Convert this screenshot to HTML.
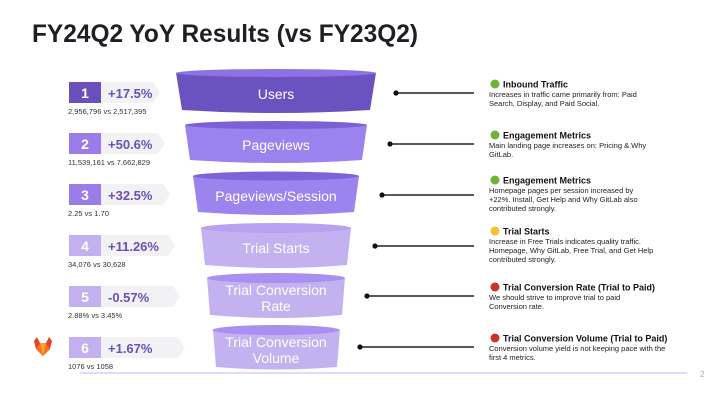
<!DOCTYPE html>
<html><head><meta charset="utf-8"><style>
html,body{margin:0;padding:0;background:#fff}
svg{display:block}
text{font-family:"Liberation Sans",sans-serif}
</style></head><body>
<svg width="720" height="405" viewBox="0 0 720 405" xmlns="http://www.w3.org/2000/svg">
<text x="32" y="42" font-size="25" font-weight="bold" fill="#1f1e24" textLength="386" lengthAdjust="spacingAndGlyphs">FY24Q2 YoY Results (vs FY23Q2)</text>

<!-- left tags -->
<g font-weight="bold">
<g transform="translate(0,82)">
<polygon points="101,0 153,0 160,10.5 153,21 101,21" fill="#f2f1f4"/>
<rect x="69" y="0" width="32" height="21" fill="#6b4fbb"/>
<text x="85" y="16" font-size="14" fill="#fff" text-anchor="middle">1</text>
<text x="108" y="16" font-size="13" fill="#6b4fbb">+17.5%</text>
<text x="68" y="32" font-size="7.5" fill="#333" font-weight="normal">2,956,796 vs 2,517,395</text>
</g>
<g transform="translate(0,133)">
<polygon points="101,0 158,0 165,10.5 158,21 101,21" fill="#f2f1f4"/>
<rect x="69" y="0" width="32" height="21" fill="#9b7de9"/>
<text x="85" y="16" font-size="14" fill="#fff" text-anchor="middle">2</text>
<text x="108" y="16" font-size="13" fill="#6b4fbb">+50.6%</text>
<text x="68" y="32" font-size="7.5" fill="#333" font-weight="normal">11,539,161 vs 7,662,829</text>
</g>
<g transform="translate(0,184)">
<polygon points="101,0 163,0 170,10.5 163,21 101,21" fill="#f2f1f4"/>
<rect x="69" y="0" width="32" height="21" fill="#9b7de9"/>
<text x="85" y="16" font-size="14" fill="#fff" text-anchor="middle">3</text>
<text x="108" y="16" font-size="13" fill="#6b4fbb">+32.5%</text>
<text x="68" y="32" font-size="7.5" fill="#333" font-weight="normal">2.25 vs 1.70</text>
</g>
<g transform="translate(0,235)">
<polygon points="101,0 168,0 175,10.5 168,21 101,21" fill="#f2f1f4"/>
<rect x="69" y="0" width="32" height="21" fill="#c3b0f0"/>
<text x="85" y="16" font-size="14" fill="#fff" text-anchor="middle">4</text>
<text x="108" y="16" font-size="13" fill="#6b4fbb">+11.26%</text>
<text x="68" y="32" font-size="7.5" fill="#333" font-weight="normal">34,076 vs 30,628</text>
</g>
<g transform="translate(0,286)">
<polygon points="101,0 173,0 180,10.5 173,21 101,21" fill="#f2f1f4"/>
<rect x="69" y="0" width="32" height="21" fill="#c3b0f0"/>
<text x="85" y="16" font-size="14" fill="#fff" text-anchor="middle">5</text>
<text x="108" y="16" font-size="13" fill="#6b4fbb">-0.57%</text>
<text x="68" y="32" font-size="7.5" fill="#333" font-weight="normal">2.88% vs 3.45%</text>
</g>
<g transform="translate(0,337)">
<polygon points="101,0 178,0 185,10.5 178,21 101,21" fill="#f2f1f4"/>
<rect x="69" y="0" width="32" height="21" fill="#c3b0f0"/>
<text x="85" y="16" font-size="14" fill="#fff" text-anchor="middle">6</text>
<text x="108" y="16" font-size="13" fill="#6b4fbb">+1.67%</text>
<text x="68" y="32" font-size="7.5" fill="#333" font-weight="normal">1076 vs 1058</text>
</g>
</g>

<!-- funnel -->
<g fill="#fff" font-size="14" text-anchor="middle">
<path d="M176,73 L182,110 Q276,116 370,110 L376,73 Z" fill="#6b52c0"/>
<ellipse cx="276" cy="73" rx="100" ry="4" fill="#8d72e3"/>
<text x="276" y="99">Users</text>

<path d="M185,125 L190,160 Q276,166 362,160 L367,125 Z" fill="#9b82ee"/>
<ellipse cx="276" cy="125" rx="91" ry="4" fill="#7b60d6"/>
<text x="276" y="150">Pageviews</text>

<path d="M193,176 L198,212 Q276,218 354,212 L359,176 Z" fill="#9d83ee"/>
<ellipse cx="276" cy="176" rx="83" ry="4.5" fill="#7e63d8"/>
<text x="276" y="201">Pageviews/Session</text>

<path d="M201,228 L205,265 Q276,271 347,265 L351,228 Z" fill="#c4b2f0"/>
<ellipse cx="276" cy="228" rx="75" ry="5" fill="#b8a2f0"/>
<text x="276" y="253">Trial Starts</text>

<path d="M207,278 L210,315 Q276,321 342,315 L345,278 Z" fill="#c4b2f0"/>
<ellipse cx="276" cy="278" rx="69" ry="5" fill="#a98ff0"/>
<text x="276" y="295">Trial Conversion</text>
<text x="276" y="311">Rate</text>

<path d="M213,330 L216,367 Q276,372 337,367 L340,330 Z" fill="#c4b2f0"/>
<ellipse cx="276" cy="330" rx="63.5" ry="5" fill="#a98ff0"/>
<text x="276" y="347">Trial Conversion</text>
<text x="276" y="363">Volume</text>
</g>

<!-- connectors -->
<g stroke="#222" stroke-width="1.5" fill="#111">
<line x1="396" y1="93" x2="474" y2="93"/><circle cx="396" cy="93" r="2.6" stroke="none"/>
<line x1="390" y1="144" x2="474" y2="144"/><circle cx="390" cy="144" r="2.6" stroke="none"/>
<line x1="382" y1="195" x2="474" y2="195"/><circle cx="382" cy="195" r="2.6" stroke="none"/>
<line x1="375" y1="246" x2="474" y2="246"/><circle cx="375" cy="246" r="2.6" stroke="none"/>
<line x1="367" y1="296" x2="474" y2="296"/><circle cx="367" cy="296" r="2.6" stroke="none"/>
<line x1="360" y1="347" x2="474" y2="347"/><circle cx="360" cy="347" r="2.6" stroke="none"/>
</g>

<!-- right text -->
<g font-size="7.5" fill="#222">
<circle cx="495" cy="84" r="4.5" fill="#6fb33b"/>
<text x="503" y="87.5" font-size="9" font-weight="bold" fill="#111">Inbound Traffic</text>
<text x="489" y="97">Increases in traffic came primarily from: Paid</text>
<text x="489" y="106">Search, Display, and Paid Social.</text>

<circle cx="495" cy="135" r="4.5" fill="#6fb33b"/>
<text x="503" y="138.5" font-size="9" font-weight="bold" fill="#111">Engagement Metrics</text>
<text x="489" y="148">Main landing page increases on: Pricing &amp; Why</text>
<text x="489" y="157">GitLab.</text>

<circle cx="495" cy="180" r="4.5" fill="#6fb33b"/>
<text x="503" y="183.5" font-size="9" font-weight="bold" fill="#111">Engagement Metrics</text>
<text x="489" y="193">Homepage pages per session increased by</text>
<text x="489" y="202">+22%. Install, Get Help and Why GitLab also</text>
<text x="489" y="211">contributed strongly.</text>

<circle cx="495" cy="231" r="4.5" fill="#f2c230"/>
<text x="503" y="234.5" font-size="9" font-weight="bold" fill="#111">Trial Starts</text>
<text x="489" y="244">Increase in Free Trials indicates quality traffic.</text>
<text x="489" y="253">Homepage, Why GitLab, Free Trial, and Get Help</text>
<text x="489" y="262">contributed strongly.</text>

<circle cx="495" cy="287" r="4.5" fill="#c8352b"/>
<text x="503" y="290.5" font-size="9" font-weight="bold" fill="#111">Trial Conversion Rate (Trial to Paid)</text>
<text x="489" y="300">We should strive to improve trial to paid</text>
<text x="489" y="309">Conversion rate.</text>

<circle cx="495" cy="338" r="4.5" fill="#c8352b"/>
<text x="503" y="341.5" font-size="9" font-weight="bold" fill="#111">Trial Conversion Volume (Trial to Paid)</text>
<text x="489" y="351">Conversion volume yield is not keeping pace with the</text>
<text x="489" y="360">first 4 metrics.</text>
</g>

<line x1="80" y1="373" x2="687" y2="373" stroke="#c4b6f2" stroke-width="1"/>
<text x="700" y="377" font-size="8" fill="#aaa">2</text>

<!-- logo -->
<g transform="translate(34,337)">
<polygon points="0,4 3,0 6,6 12,6 15,0 18,4 16,12 9,19 2,12" fill="#e24329"/>
<polygon points="2,12 9,19 16,12 12,6 6,6" fill="#fc6d26"/>
<polygon points="6,6 12,6 9,19" fill="#fca326"/>
</g>
</svg>
</body></html>
